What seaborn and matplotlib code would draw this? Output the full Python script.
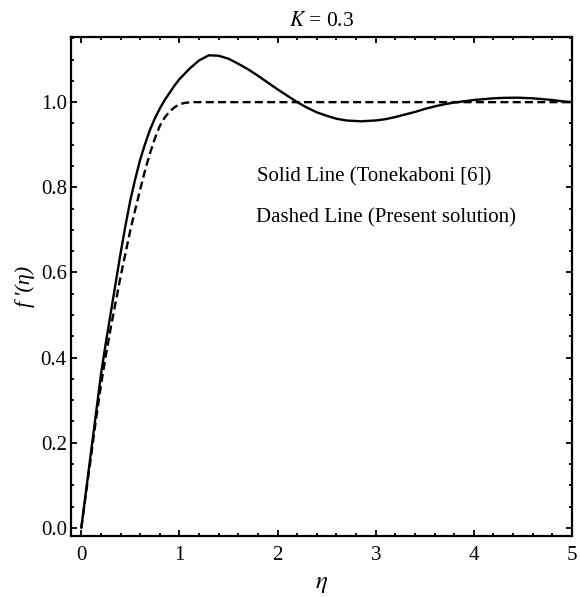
import matplotlib
matplotlib.use("Agg")
import matplotlib.pyplot as plt
import seaborn as sns
import pandas as pd
from matplotlib.ticker import MultipleLocator

# Solid line (Tonekaboni [6])
eta_solid = [0.0, 0.05, 0.1, 0.15, 0.2, 0.25, 0.3, 0.35, 0.4, 0.45, 0.5, 0.55, 0.6, 0.65,
             0.7, 0.75, 0.8, 0.85, 0.9, 0.95, 1.0, 1.1, 1.2, 1.3, 1.4, 1.5, 1.6, 1.7, 1.8,
             1.9, 2.0, 2.1, 2.2, 2.3, 2.4, 2.5, 2.6, 2.7, 2.85, 3.0, 3.1, 3.2, 3.3, 3.4,
             3.5, 3.6, 3.7, 3.8, 3.9, 4.0, 4.1, 4.2, 4.3, 4.45, 4.6, 4.7, 4.8, 4.9, 5.0]
fp_solid = [0.0, 0.09, 0.18, 0.27, 0.36, 0.435, 0.505, 0.575, 0.645, 0.71, 0.77, 0.82,
            0.865, 0.902, 0.935, 0.962, 0.985, 1.005, 1.022, 1.039, 1.054, 1.078, 1.098,
            1.11, 1.109, 1.102, 1.09, 1.077, 1.062, 1.046, 1.03, 1.015, 1.0, 0.987, 0.976,
            0.968, 0.961, 0.957, 0.955, 0.957, 0.96, 0.965, 0.971, 0.977, 0.984, 0.99,
            0.995, 0.999, 1.002, 1.005, 1.007, 1.009, 1.01, 1.0105, 1.009, 1.007, 1.005,
            1.002, 1.0]

# Dashed line (Present solution)
eta_dashed = [0.0, 0.05, 0.1, 0.15, 0.2, 0.25, 0.3, 0.35, 0.4, 0.45, 0.5, 0.55, 0.6, 0.65,
              0.7, 0.75, 0.8, 0.85, 0.9, 0.95, 1.0, 1.05, 1.1, 1.15, 2.0, 3.0, 4.0, 5.0]
fp_dashed = [0.0, 0.085, 0.17, 0.255, 0.335, 0.405, 0.47, 0.53, 0.59, 0.645, 0.70, 0.748,
             0.795, 0.84, 0.88, 0.915, 0.944, 0.964, 0.978, 0.988, 0.995, 0.998, 0.9995,
             1.0, 1.0, 1.0, 1.0, 1.0]

x_ticks = [0, 1, 2, 3, 4, 5]
y_ticks = [0.0, 0.2, 0.4, 0.6, 0.8, 1.0]
y_tick_labels = ["0.0", "0.2", "0.4", "0.6", "0.8", "1.0"]

title = r"$K$ = 0.3"
xlabel = r"$\eta$"
ylabel = "f\u2009'(η)"
note1 = "Solid Line (Tonekaboni [6])"
note2 = "Dashed Line (Present solution)"

sns.set_theme(style="ticks")
plt.rcParams["font.family"] = ["Liberation Serif", "DejaVu Serif"]
plt.rcParams["mathtext.fontset"] = "stix"

fig = plt.figure(figsize=(5.8, 5.97), dpi=100)
ax = fig.add_axes([71 / 580, 1 - 536 / 597, (572 - 71) / 580, (536 - 37) / 597])

df_s = pd.DataFrame({"eta": eta_solid, "fp": fp_solid})
df_d = pd.DataFrame({"eta": eta_dashed, "fp": fp_dashed})
sns.lineplot(data=df_s, x="eta", y="fp", ax=ax, color="black", linewidth=1.7, sort=False)
sns.lineplot(data=df_d, x="eta", y="fp", ax=ax, color="black", linewidth=1.7, sort=False)
ax.lines[-1].set_dashes([3.4, 1.8])

ax.set_xlim(-0.105, 5.0)
ax.set_ylim(-0.019, 1.153)
ax.set_xticks(x_ticks)
ax.set_xticklabels([str(t) for t in x_ticks])
ax.set_yticks(y_ticks)
ax.set_yticklabels(y_tick_labels)
ax.xaxis.set_minor_locator(MultipleLocator(0.2))
ax.yaxis.set_minor_locator(MultipleLocator(0.05))
ax.tick_params(which="both", direction="in", top=True, right=True, labeltop=False,
               labelright=False, colors="black", labelsize=15)
ax.tick_params(which="major", length=4, width=1.3)
ax.tick_params(which="minor", length=2, width=1.3)
ax.tick_params(axis="x", which="major", pad=7)
ax.tick_params(axis="y", which="major", pad=3)
for sp in ax.spines.values():
    sp.set_linewidth(1.6)
    sp.set_color("black")
    sp.set_visible(True)

ax.set_title(title, fontsize=15.5, pad=8, color="black")
ax.set_xlabel(xlabel, fontsize=18, labelpad=6, color="black")
ax.set_ylabel(ylabel, fontsize=16, labelpad=4, color="black", fontstyle="italic")

ax.text(1.795, 0.824, note1, fontsize=15, va="center", ha="left", color="black")
ax.text(1.775, 0.728, note2, fontsize=15, va="center", ha="left", color="black")

fig.savefig("out.png", dpi=100, facecolor="white")
